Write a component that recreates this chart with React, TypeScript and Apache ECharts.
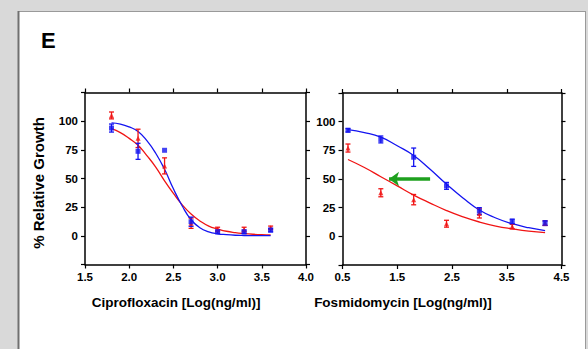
import React, { useEffect, useRef } from "react";
import * as echarts from "echarts";

// ---- data ----
const ciproX = [1.8, 2.1, 2.4, 2.7, 3.0, 3.3, 3.6];
const ciproRed = [105, 85, 61, 11, 5.5, 5.5, 7];
const ciproRedErr = [3, 8, 7, 4.5, 2, 2, 1.5];
const ciproBlue = [94, 73.7, 74.6, 12.3, 3.5, 3.5, 5];
const ciproBlueErr = [3.5, 7, 0, 4, 1.5, 1.5, 1.5];

const ciproCurveX = [1.8, 1.9, 2.0, 2.1, 2.2, 2.3, 2.4, 2.5, 2.6, 2.7, 2.8, 2.9, 3.0, 3.1, 3.2, 3.3, 3.4, 3.5, 3.6];
const ciproCurveBlue = [98.5, 97.5, 95, 91, 83, 72, 58, 41, 26, 14, 7, 3.5, 1.8, 1, 0.5, 0.3, 0.2, 0.1, 0.1];
const ciproCurveRed = [93.5, 90, 85, 79, 70, 60, 48, 37, 27, 19, 13, 8.5, 6, 4, 2.8, 2, 1.4, 1, 0.8];

const fosX = [0.6, 1.2, 1.8, 2.4, 3.0, 3.6, 4.2];
const fosBlue = [92.5, 84.5, 69, 44, 22, 13, 11.5];
const fosBlueErr = [1.5, 3, 8, 3, 3, 2, 2];
const fosRed = [77, 38, 32, 11, 20, 8.5, 11.5];
const fosRedErr = [3.5, 3.5, 4.5, 3, 4, 2, 2];

const fosCurveX = [0.6, 0.9, 1.2, 1.5, 1.8, 2.1, 2.4, 2.7, 3.0, 3.3, 3.6, 3.9, 4.2];
const fosCurveBlue = [93, 90.5, 86.5, 79, 70.5, 58.5, 45.5, 33.5, 23, 16, 11, 7.5, 5];
const fosCurveRed = [67, 60, 52, 44, 36, 29, 22.5, 17, 12.5, 9, 6.5, 4.5, 3.3];

const arrowFrom = [2.1, 50];
const arrowTo = [1.35, 50];

const FONT = 'Arial, "Liberation Sans", sans-serif';
const BLUE = "#1414f0";
const RED = "#f01414";
const GREEN = "#1ea01e";

function zip(xs: number[], ys: number[], es?: number[]) {
  return xs.map((x, i) => (es ? [x, ys[i], es[i]] : [x, ys[i]]));
}

function errRender(color: string) {
  return (params: any, api: any) => {
    const x = api.value(0);
    const y = api.value(1);
    const e = api.value(2);
    if (!e) return { type: "group", children: [] };
    const t = api.coord([x, y + e]);
    const b = api.coord([x, y - e]);
    const w = 2.5;
    const style = { stroke: color, lineWidth: 1.3 };
    return {
      type: "group",
      children: [
        { type: "line", shape: { x1: t[0], y1: t[1], x2: b[0], y2: b[1] }, style },
        { type: "line", shape: { x1: t[0] - w, y1: t[1], x2: t[0] + w, y2: t[1] }, style },
        { type: "line", shape: { x1: b[0] - w, y1: b[1], x2: b[0] + w, y2: b[1] }, style },
      ],
    };
  };
}

function xAx(gridIndex: number, min: number, max: number, interval: number, pos: "bottom" | "top") {
  return {
    type: "value",
    gridIndex,
    position: pos,
    min,
    max,
    interval,
    axisLine: { show: true, onZero: false, lineStyle: { color: "#000", width: 1.5 } },
    axisTick: { show: true, inside: false, length: 4, lineStyle: { color: "#000", width: 1.2 } },
    axisLabel: {
      show: pos === "bottom",
      margin: 6,
      fontFamily: FONT,
      fontWeight: "bold",
      fontSize: 11.5,
      color: "#000",
      formatter: (v: number) => v.toFixed(1),
    },
    splitLine: { show: false },
  };
}

function yAx(gridIndex: number, pos: "left" | "right") {
  return {
    type: "value",
    gridIndex,
    position: pos,
    min: -25,
    max: 125,
    interval: 25,
    axisLine: { show: true, onZero: false, lineStyle: { color: "#000", width: 1.5 } },
    axisTick: { show: true, inside: false, length: 4, lineStyle: { color: "#000", width: 1.2 } },
    axisLabel: {
      show: pos === "left",
      margin: 7,
      fontFamily: FONT,
      fontWeight: "bold",
      fontSize: 11.5,
      color: "#000",
      formatter: (v: number) => (v < 0 || v > 100 ? "" : String(v)),
    },
    splitLine: { show: false },
  };
}

export default function App() {
  const ref = useRef<HTMLDivElement>(null);
  useEffect(() => {
    if (!ref.current) return;
    const chart = echarts.init(ref.current, undefined, { renderer: "svg" });
    const curve = (xi: number, yi: number, xs: number[], ys: number[], color: string, extra: any = {}) => ({
      type: "line",
      xAxisIndex: xi,
      yAxisIndex: yi,
      data: zip(xs, ys),
      smooth: true,
      showSymbol: false,
      symbol: "none",
      lineStyle: { color, width: 1.3 },
      z: 3,
      ...extra,
    });
    const pts = (xi: number, yi: number, xs: number[], ys: number[], color: string, symbol: string, size: number) => ({
      type: "scatter",
      xAxisIndex: xi,
      yAxisIndex: yi,
      data: zip(xs, ys),
      symbol,
      symbolSize: size,
      itemStyle: { color },
      z: 5,
    });
    const errs = (xi: number, yi: number, xs: number[], ys: number[], es: number[], color: string) => ({
      type: "custom",
      xAxisIndex: xi,
      yAxisIndex: yi,
      data: zip(xs, ys, es),
      encode: { x: 0, y: 1 },
      renderItem: errRender(color),
      z: 4,
    });
    chart.setOption({
      animation: false,
      backgroundColor: "#d9d9d9",
      grid: [
        { left: 85, top: 92.5, width: 221, height: 172 },
        { left: 342.5, top: 93, width: 219, height: 172 },
      ],
      xAxis: [
        xAx(0, 1.5, 4.0, 0.5, "bottom"),
        xAx(0, 1.5, 4.0, 0.5, "top"),
        xAx(1, 0.5, 4.5, 1, "bottom"),
        xAx(1, 0.5, 4.5, 1, "top"),
      ],
      yAxis: [yAx(0, "left"), yAx(0, "right"), yAx(1, "left"), yAx(1, "right")],
      graphic: [
        { type: "rect", z: -10, shape: { x: 18, y: 12, width: 568, height: 340 }, style: { fill: "#fff" } },
        { type: "line", z: -9, shape: { x1: 18, y1: 11.5, x2: 586, y2: 11.5 }, style: { stroke: "#9a9a9a", lineWidth: 1 } },
        { type: "line", z: -9, shape: { x1: 18.5, y1: 11, x2: 18.5, y2: 349 }, style: { stroke: "#707070", lineWidth: 2 } },
        { type: "line", z: -9, shape: { x1: 585.5, y1: 11, x2: 585.5, y2: 349 }, style: { stroke: "#9a9a9a", lineWidth: 1 } },
        {
          type: "text",
          left: 41,
          top: 29,
          style: { text: "E", font: `bold 22px ${FONT}`, fill: "#000" },
        },
        {
          type: "text",
          x: 38,
          y: 183,
          rotation: Math.PI / 2,
          style: {
            text: "% Relative Growth",
            font: `bold 15px ${FONT}`,
            fill: "#000",
            textAlign: "center",
            textVerticalAlign: "middle",
          },
        },
        {
          type: "text",
          x: 176,
          y: 302,
          style: {
            text: "Ciprofloxacin [Log(ng/ml)]",
            font: `bold 13.5px ${FONT}`,
            fill: "#000",
            textAlign: "center",
            textVerticalAlign: "middle",
          },
        },
        {
          type: "text",
          x: 403,
          y: 302,
          style: {
            text: "Fosmidomycin [Log(ng/ml)]",
            font: `bold 13.5px ${FONT}`,
            fill: "#000",
            textAlign: "center",
            textVerticalAlign: "middle",
          },
        },
      ],
      series: [
        // Ciprofloxacin panel
        curve(0, 0, ciproCurveX, ciproCurveRed, RED),
        errs(0, 0, ciproX, ciproRed, ciproRedErr, RED),
        pts(0, 0, ciproX, ciproRed, RED, "triangle", 5),
        curve(0, 0, ciproCurveX, ciproCurveBlue, BLUE),
        errs(0, 0, ciproX, ciproBlue, ciproBlueErr, BLUE),
        pts(0, 0, ciproX, ciproBlue, BLUE, "rect", 5),
        // Fosmidomycin panel
        curve(2, 2, fosCurveX, fosCurveRed, RED, {
          markLine: {
            silent: true,
            symbol: ["none", "arrow"],
            symbolSize: [11, 10],
            label: { show: false },
            lineStyle: { color: GREEN, width: 3.5, type: "solid" },
            data: [[{ coord: arrowFrom }, { coord: arrowTo }]],
          },
        }),
        errs(2, 2, fosX, fosRed, fosRedErr, RED),
        pts(2, 2, fosX, fosRed, RED, "triangle", 5),
        curve(2, 2, fosCurveX, fosCurveBlue, BLUE),
        errs(2, 2, fosX, fosBlue, fosBlueErr, BLUE),
        pts(2, 2, fosX, fosBlue, BLUE, "rect", 5),
      ],
    });
    return () => chart.dispose();
  }, []);
  return (
    <div
      ref={ref}
      style={{ position: "fixed", left: 0, top: 0, width: 588, height: 349 }}
    />
  );
}
